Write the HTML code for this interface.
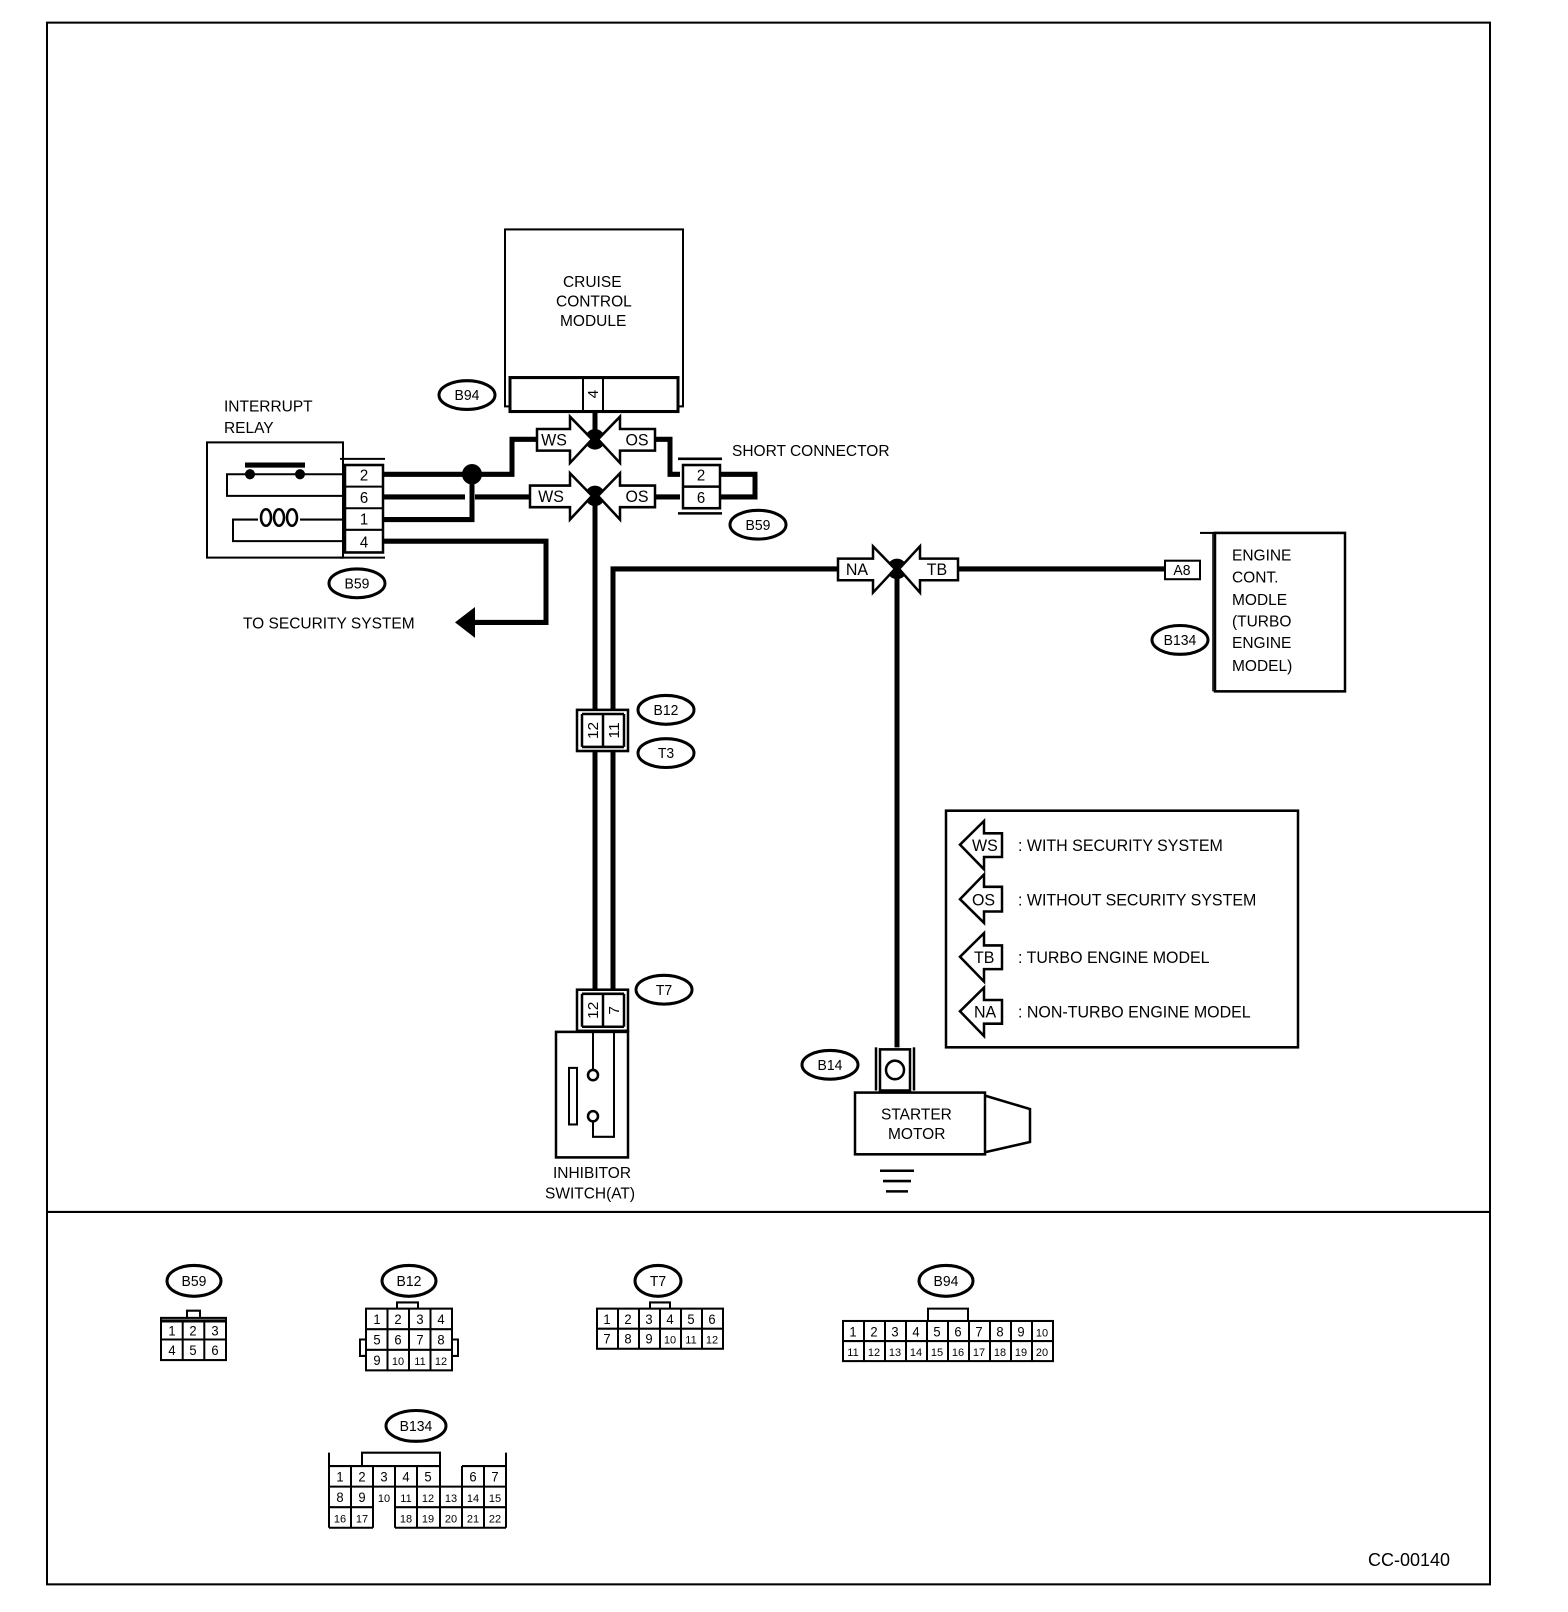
<!DOCTYPE html>
<html><head><meta charset="utf-8"><style>
html,body{margin:0;padding:0;background:#fff}
svg{display:block}
text{font-family:"Liberation Sans",sans-serif;fill:#000}
</style></head><body>
<svg width="1568" height="1612" viewBox="0 0 1568 1612" xmlns="http://www.w3.org/2000/svg">
<g transform="scale(1,1.0288)">
<g fill="none" stroke="#000" stroke-width="2">
<rect x="47" y="22" width="1443" height="1518"/>
<line x1="47" y1="1178" x2="1490" y2="1178"/>
<!-- cruise module -->
<rect x="505" y="223" width="178" height="172"/>
<rect x="510" y="367" width="168" height="33" stroke-width="3" fill="#fff"/>
<line x1="583" y1="367" x2="583" y2="400"/><line x1="603" y1="367" x2="603" y2="400"/>
<!-- relay -->
<rect x="207" y="430" width="136" height="112"/>
<rect x="345" y="452" width="38" height="85" stroke-width="2.5"/>
<line x1="345" y1="473" x2="383" y2="473"/><line x1="345" y1="494" x2="383" y2="494"/><line x1="345" y1="515" x2="383" y2="515"/>
<line x1="340" y1="446" x2="385" y2="446"/><line x1="340" y1="542" x2="385" y2="542"/>
<path d="M345 461 H227 V482 H345"/>
<path d="M245 452 H305" stroke-width="5"/>
<path d="M345 505 H300 M258 505 H233 V526 H345"/>
<ellipse cx="266" cy="503" rx="5" ry="8" stroke-width="2.5"/>
<ellipse cx="279" cy="503" rx="5" ry="8" stroke-width="2.5"/>
<ellipse cx="292" cy="503" rx="5" ry="8" stroke-width="2.5"/>
</g>
<circle cx="250" cy="461" r="5"/><circle cx="300" cy="461" r="5"/>
<!-- wires -->
<g fill="none" stroke="#000" stroke-width="5">
<path d="M383 461 H512 V427 H537"/>
<path d="M383 483 H465 M475 483 H530"/>
<path d="M383 505 H472 V461"/>
<path d="M383 526 H546 V605 H470"/>
<path d="M595 400 V427"/>
<path d="M655 427 H670 V461 H680"/>
<path d="M655 483 H680"/>
<path d="M720 461 H755 V483 H720"/>
<path d="M595 482 V1000"/>
<path d="M613 1000 V553 H840"/>
<path d="M958 553 H1165"/>
<path d="M897 553 V1018"/>
</g>
<circle cx="472" cy="461" r="10"/>
<circle cx="595" cy="427" r="10"/><circle cx="595" cy="482" r="10"/>
<circle cx="897" cy="553" r="10"/>
<polygon points="455,605 475,590 475,620"/>
<!-- arrow symbols -->
<g fill="#fff" stroke="#000" stroke-width="2.5">
<path d="M537 417 H570 V405 L592 427 L570 450 V438 H537 Z"/>
<path d="M655 417 H620 V405 L598 427 L620 450 V438 H655 Z"/>
<path d="M530 472 H570 V460 L592 482 L570 505 V493 H530 Z"/>
<path d="M655 472 H620 V460 L598 482 L620 505 V493 H655 Z"/>
<path d="M838 543 H873 V531 L895 553 L873 576 V564 H838 Z"/>
<path d="M958 543 H920 V531 L899 553 L920 576 V564 H958 Z"/>
</g>
<g font-size="16" text-anchor="middle">
<text x="554" y="433">WS</text><text x="637" y="433">OS</text>
<text x="551" y="488">WS</text><text x="637" y="488">OS</text>
<text x="857" y="559">NA</text><text x="937" y="559">TB</text>
</g>
<!-- short connector -->
<g fill="none" stroke="#000" stroke-width="2.5">
<rect x="683" y="452" width="37" height="42" fill="#fff"/><line x1="683" y1="473" x2="720" y2="473"/>
<line x1="678" y1="446" x2="722" y2="446"/><line x1="678" y1="499" x2="722" y2="499"/>
<!-- A8 / ECM -->
<rect x="1165" y="545" width="35" height="18" stroke-width="2" fill="#fff"/>
<rect x="1215" y="518" width="130" height="154"/>
<line x1="1200" y1="518" x2="1215" y2="518" stroke-width="2"/>
<line x1="1213" y1="518" x2="1213" y2="672" stroke-width="1.5"/>
<!-- B12 -->
<rect x="577" y="690" width="51" height="40" fill="#fff"/>
<line x1="582" y1="694" x2="582" y2="726"/><line x1="603" y1="694" x2="603" y2="726"/><line x1="624" y1="694" x2="624" y2="726"/>
<line x1="582" y1="694" x2="624" y2="694"/><line x1="582" y1="726" x2="624" y2="726"/>
<!-- T7 -->
<rect x="577" y="962" width="51" height="40" fill="#fff"/>
<line x1="582" y1="966" x2="582" y2="998"/><line x1="603" y1="966" x2="603" y2="998"/><line x1="624" y1="966" x2="624" y2="998"/>
<line x1="582" y1="966" x2="624" y2="966"/><line x1="582" y1="998" x2="624" y2="998"/>
<!-- inhibitor -->
<rect x="556" y="1003" width="72" height="122"/>
<path d="M593 1003 V1040 M614 1003 V1105 H593 V1085" stroke-width="2"/>
<rect x="569" y="1038" width="8" height="55" stroke-width="2"/>
<circle cx="593" cy="1045" r="5" fill="#fff"/><circle cx="593" cy="1085" r="5" fill="#fff"/>
<!-- starter -->
<rect x="880" y="1020" width="30" height="40" fill="#fff"/>
<line x1="876" y1="1018" x2="876" y2="1060"/><line x1="914" y1="1018" x2="914" y2="1060"/>
<circle cx="895" cy="1040" r="9"/>
<rect x="855" y="1062" width="130" height="60"/>
<path d="M985 1065 L1030 1078 V1110 L985 1120"/>
<line x1="880" y1="1138" x2="914" y2="1138"/><line x1="883" y1="1148" x2="911" y2="1148"/><line x1="886" y1="1158" x2="908" y2="1158"/>
<!-- legend -->
<rect x="946" y="788" width="352" height="230"/>
</g>
<g fill="#fff" stroke="#000" stroke-width="2.5">
<path d="M1002 810 H984 V798 L960 821 L984 845 V833 H1002 Z"/>
<path d="M1002 862 H984 V850 L960 874 L984 897 V886 H1002 Z"/>
<path d="M1002 919 H984 V907 L960 930 L984 954 V942 H1002 Z"/>
<path d="M1002 972 H984 V960 L960 983 L984 1007 V995 H1002 Z"/>
</g>
<g font-size="16">
<text x="972" y="827">WS</text><text x="972" y="880">OS</text><text x="974" y="936">TB</text><text x="974" y="989">NA</text>
<text x="1018" y="827">: WITH SECURITY SYSTEM</text>
<text x="1018" y="880">: WITHOUT SECURITY SYSTEM</text>
<text x="1018" y="936">: TURBO ENGINE MODEL</text>
<text x="1018" y="989">: NON-TURBO ENGINE MODEL</text>
</g>
<!-- labels -->
<g font-size="15.5">
<text x="563" y="279">CRUISE</text><text x="556" y="298">CONTROL</text><text x="560" y="317">MODULE</text>
<text x="224" y="400">INTERRUPT</text><text x="224" y="421">RELAY</text>
<text x="732" y="443">SHORT CONNECTOR</text>
<text x="243" y="611">TO SECURITY SYSTEM</text>
<text x="1232" y="545">ENGINE</text><text x="1232" y="566">CONT.</text><text x="1232" y="588">MODLE</text><text x="1232" y="609">(TURBO</text><text x="1232" y="630">ENGINE</text><text x="1232" y="652">MODEL)</text>
<text x="553" y="1145">INHIBITOR</text><text x="545" y="1165">SWITCH(AT)</text>
<text x="881" y="1088">STARTER</text><text x="888" y="1107">MOTOR</text>
<text x="1368" y="1522" font-size="18">CC-00140</text>
</g>
<g font-size="15" text-anchor="middle">
<text x="364" y="467">2</text><text x="364" y="489">6</text><text x="364" y="510">1</text><text x="364" y="532">4</text>
<text x="701" y="467">2</text><text x="701" y="489">6</text>
<text x="1182" y="559" font-size="14">A8</text>
</g>
<g font-size="15" text-anchor="middle">
<text transform="translate(598,383) rotate(-90)">4</text>
<text transform="translate(598,710) rotate(-90)">12</text><text transform="translate(619,710) rotate(-90)">11</text>
<text transform="translate(598,982) rotate(-90)">12</text><text transform="translate(619,982) rotate(-90)">7</text>
</g>
<!-- ellipses -->
<g fill="none" stroke="#000" stroke-width="3">
<ellipse cx="467" cy="384" rx="28" ry="14"/>
<ellipse cx="357" cy="567" rx="28" ry="14"/>
<ellipse cx="758" cy="510" rx="28" ry="14"/>
<ellipse cx="1180" cy="622" rx="28" ry="14"/>
<ellipse cx="666" cy="690" rx="28" ry="14"/>
<ellipse cx="666" cy="732" rx="28" ry="14"/>
<ellipse cx="664" cy="962" rx="28" ry="14"/>
<ellipse cx="830" cy="1035" rx="28" ry="14"/>
<ellipse cx="194" cy="1245" rx="27" ry="15"/>
<ellipse cx="409" cy="1245" rx="27" ry="15"/>
<ellipse cx="658" cy="1245" rx="23" ry="15"/>
<ellipse cx="946" cy="1245" rx="27" ry="15"/>
<ellipse cx="416" cy="1386" rx="30" ry="15"/>
</g>
<g font-size="14" text-anchor="middle">
<text x="467" y="389">B94</text><text x="357" y="572">B59</text><text x="758" y="515">B59</text><text x="1180" y="627">B134</text>
<text x="666" y="695">B12</text><text x="666" y="737">T3</text><text x="664" y="967">T7</text><text x="830" y="1040">B14</text>
<text x="194" y="1250">B59</text><text x="409" y="1250">B12</text><text x="658" y="1250">T7</text><text x="946" y="1250">B94</text><text x="416" y="1391">B134</text>
</g>
<!-- bottom connectors -->
<g fill="none" stroke="#000" stroke-width="2">
<rect x="161" y="1281" width="65" height="41"/><line x1="161" y1="1284" x2="226" y2="1284" stroke-width="3"/>
<line x1="182.7" y1="1284" x2="182.7" y2="1322"/><line x1="204.3" y1="1284" x2="204.3" y2="1322"/><line x1="161" y1="1302" x2="226" y2="1302"/>
<path d="M187 1281 V1274 H200 V1281"/>
<rect x="366" y="1272" width="86" height="60"/>
<line x1="387.5" y1="1272" x2="387.5" y2="1332"/><line x1="409" y1="1272" x2="409" y2="1332"/><line x1="430.5" y1="1272" x2="430.5" y2="1332"/>
<line x1="366" y1="1292" x2="452" y2="1292"/><line x1="366" y1="1312" x2="452" y2="1312"/>
<path d="M397 1272 V1266 H418 V1272 M366 1302 H360 V1318 H366 M452 1302 H458 V1318 H452"/>
<rect x="597" y="1272" width="126" height="39"/><line x1="597" y1="1291.5" x2="723" y2="1291.5"/>
<line x1="618" y1="1272" x2="618" y2="1311"/><line x1="639" y1="1272" x2="639" y2="1311"/><line x1="660" y1="1272" x2="660" y2="1311"/><line x1="681" y1="1272" x2="681" y2="1311"/><line x1="702" y1="1272" x2="702" y2="1311"/>
<path d="M650 1272 V1266 H670 V1272"/>
<rect x="843" y="1284" width="210" height="39"/><line x1="843" y1="1303.5" x2="1053" y2="1303.5"/>
<line x1="864" y1="1284" x2="864" y2="1323"/><line x1="885" y1="1284" x2="885" y2="1323"/><line x1="906" y1="1284" x2="906" y2="1323"/><line x1="927" y1="1284" x2="927" y2="1323"/><line x1="948" y1="1284" x2="948" y2="1323"/><line x1="969" y1="1284" x2="969" y2="1323"/><line x1="990" y1="1284" x2="990" y2="1323"/><line x1="1011" y1="1284" x2="1011" y2="1323"/><line x1="1032" y1="1284" x2="1032" y2="1323"/>
<path d="M928 1284 V1272 H968 V1284"/>
<path d="M329 1425 H440 M462 1425 H506 M329 1445 H506 M329 1465 H373 M395 1465 H506 M329 1485 H373 M395 1485 H506"/>
<path d="M329 1412 V1485 M506 1412 V1485 M351 1425 V1485 M373 1425 V1485 M395 1425 V1485 M417 1425 V1485 M440 1425 V1465 M462 1425 V1485 M484 1425 V1485 M440 1465 V1485"/>
<path d="M362 1425 V1412 H440 V1425"/>
</g>
<g font-size="13" text-anchor="middle">
<text x="172" y="1298">1</text><text x="193" y="1298">2</text><text x="215" y="1298">3</text>
<text x="172" y="1317">4</text><text x="193" y="1317">5</text><text x="215" y="1317">6</text>
<text x="377" y="1287">1</text><text x="398" y="1287">2</text><text x="420" y="1287">3</text><text x="441" y="1287">4</text>
<text x="377" y="1307">5</text><text x="398" y="1307">6</text><text x="420" y="1307">7</text><text x="441" y="1307">8</text>
<text x="377" y="1327">9</text><text x="398" y="1327" font-size="11">10</text><text x="420" y="1327" font-size="11">11</text><text x="441" y="1327" font-size="11">12</text>
<text x="607" y="1287">1</text><text x="628" y="1287">2</text><text x="649" y="1287">3</text><text x="670" y="1287">4</text><text x="691" y="1287">5</text><text x="712" y="1287">6</text>
<text x="607" y="1306">7</text><text x="628" y="1306">8</text><text x="649" y="1306">9</text><text x="670" y="1306" font-size="11">10</text><text x="691" y="1306" font-size="11">11</text><text x="712" y="1306" font-size="11">12</text>
<text x="853" y="1299">1</text><text x="874" y="1299">2</text><text x="895" y="1299">3</text><text x="916" y="1299">4</text><text x="937" y="1299">5</text><text x="958" y="1299">6</text><text x="979" y="1299">7</text><text x="1000" y="1299">8</text><text x="1021" y="1299">9</text><text x="1042" y="1299" font-size="11">10</text>
</g>
<g font-size="11" text-anchor="middle">
<text x="853" y="1318">11</text><text x="874" y="1318">12</text><text x="895" y="1318">13</text><text x="916" y="1318">14</text><text x="937" y="1318">15</text><text x="958" y="1318">16</text><text x="979" y="1318">17</text><text x="1000" y="1318">18</text><text x="1021" y="1318">19</text><text x="1042" y="1318">20</text>
</g>
<g font-size="13" text-anchor="middle">
<text x="340" y="1440">1</text><text x="362" y="1440">2</text><text x="384" y="1440">3</text><text x="406" y="1440">4</text><text x="428" y="1440">5</text><text x="473" y="1440">6</text><text x="495" y="1440">7</text>
<text x="340" y="1460">8</text><text x="362" y="1460">9</text>
</g>
<g font-size="11" text-anchor="middle">
<text x="384" y="1460">10</text><text x="406" y="1460">11</text><text x="428" y="1460">12</text><text x="451" y="1460">13</text><text x="473" y="1460">14</text><text x="495" y="1460">15</text>
<text x="340" y="1480">16</text><text x="362" y="1480">17</text><text x="406" y="1480">18</text><text x="428" y="1480">19</text><text x="451" y="1480">20</text><text x="473" y="1480">21</text><text x="495" y="1480">22</text>
</g>
</g>
</svg>
</body></html>
